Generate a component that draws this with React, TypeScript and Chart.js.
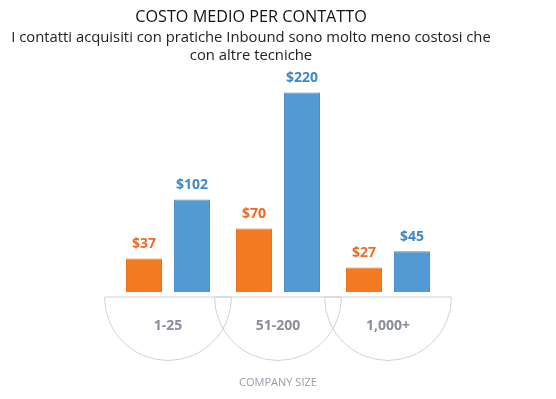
import React, { useEffect, useRef } from 'react';
import { Chart, registerables } from 'chart.js';

Chart.register(...registerables);

const categories = ['1-25', '51-200', '1,000+'];
const outboundCosts = [37, 70, 27];
const inboundCosts = [102, 220, 45];
const seriesNames = ['Outbound', 'Inbound'];
const titleText = 'COSTO MEDIO PER CONTATTO';
const subtitleLines = [
  'I contatti acquisiti con pratiche Inbound sono molto meno costosi che',
  'con altre tecniche',
];
const axisTitle = 'COMPANY SIZE';

const ORANGE = '#F47A21';
const BLUE = '#5399D4';
const ORANGE_TEXT = '#F06922';
const BLUE_TEXT = '#3D88C9';
const FONT = "'Open Sans', 'Noto Sans', sans-serif";

const semiCircles = {
  id: 'semiCircles',
  beforeDatasetsDraw(chart: any) {
    const { ctx, chartArea, scales } = chart;
    const x = scales.x;
    const top = chartArea.bottom + 5;
    const r = (x.width / categories.length) * 0.577;
    ctx.save();
    ctx.strokeStyle = '#d0d2da';
    ctx.lineWidth = 1;
    categories.forEach((_, i) => {
      const cx = x.getPixelForValue(i);
      ctx.beginPath();
      ctx.arc(cx, top, r, 0, Math.PI);
      ctx.closePath();
      ctx.stroke();
    });
    ctx.restore();
  },
};

const valueLabels = {
  id: 'valueLabels',
  afterDatasetsDraw(chart: any) {
    const { ctx } = chart;
    ctx.save();
    ctx.font = `bold 14px ${FONT}`;
    ctx.textAlign = 'center';
    ctx.textBaseline = 'middle';
    chart.data.datasets.forEach((ds: any, di: number) => {
      const meta = chart.getDatasetMeta(di);
      ctx.fillStyle = di === 0 ? ORANGE_TEXT : BLUE_TEXT;
      meta.data.forEach((bar: any, i: number) => {
        ctx.fillText('$' + ds.data[i], bar.x, bar.y - 14);
      });
    });
    ctx.restore();
  },
};

const hiddenSide = (width: number) => ({
  display: true,
  grid: { display: false, drawTicks: false },
  border: { display: false },
  ticks: { display: false },
  afterFit(scale: any) {
    scale.width = width;
  },
});

export default function App() {
  const ref = useRef<HTMLCanvasElement>(null);
  useEffect(() => {
    document.body.style.margin = '0';
    const canvas = ref.current!;
    const chart = new Chart(canvas, {
      type: 'bar',
      data: {
        labels: categories,
        datasets: [
          {
            label: seriesNames[0],
            data: outboundCosts,
            backgroundColor: ORANGE,
            borderColor: '#EC7019',
            borderWidth: 1,
            yAxisID: 'y',
          },
          {
            label: seriesNames[1],
            data: inboundCosts,
            backgroundColor: BLUE,
            borderColor: '#4A8FCC',
            borderWidth: 1,
            yAxisID: 'y',
          },
        ],
      },
      options: {
        responsive: false,
        animation: false,
        categoryPercentage: 0.873,
        barPercentage: 0.75,
        layout: { padding: { left: 0, right: 54, top: 0, bottom: 0 } },
        plugins: {
          legend: { display: false },
          tooltip: { enabled: false },
          title: {
            display: true,
            text: titleText,
            color: '#111',
            font: { family: FONT, size: 16.2, weight: 'normal' },
            padding: { top: 8, bottom: 0 },
          },
          subtitle: {
            display: true,
            text: subtitleLines,
            color: '#222',
            font: { family: FONT, size: 14.8, weight: 'normal', lineHeight: 1.22 },
            padding: { top: 1, bottom: 7 },
          },
        },
        scales: {
          x: {
            grid: { display: false, drawTicks: false },
            border: { display: false },
            ticks: {
              color: '#8A8E9C',
              font: { family: FONT, size: 14, weight: 'bold' },
              padding: 26,
            },
            title: {
              display: true,
              text: axisTitle,
              color: '#9A9EAB',
              font: { family: FONT, size: 11 },
              padding: { top: 0, bottom: 10 },
            },
            afterFit(scale: any) {
              scale.height = 107;
            },
          },
          y: {
            ...hiddenSide(113),
            position: 'left',
            min: 0,
            max: 243,
          },
          yRight: {
            ...hiddenSide(59),
            position: 'right',
            min: 0,
            max: 243,
          },
        },
      },
      plugins: [semiCircles, valueLabels],
    });
    return () => chart.destroy();
  }, []);
  return (
    <div style={{ width: 556, height: 399, background: '#fff' }}>
      <canvas ref={ref} width={556} height={399} />
    </div>
  );
}
